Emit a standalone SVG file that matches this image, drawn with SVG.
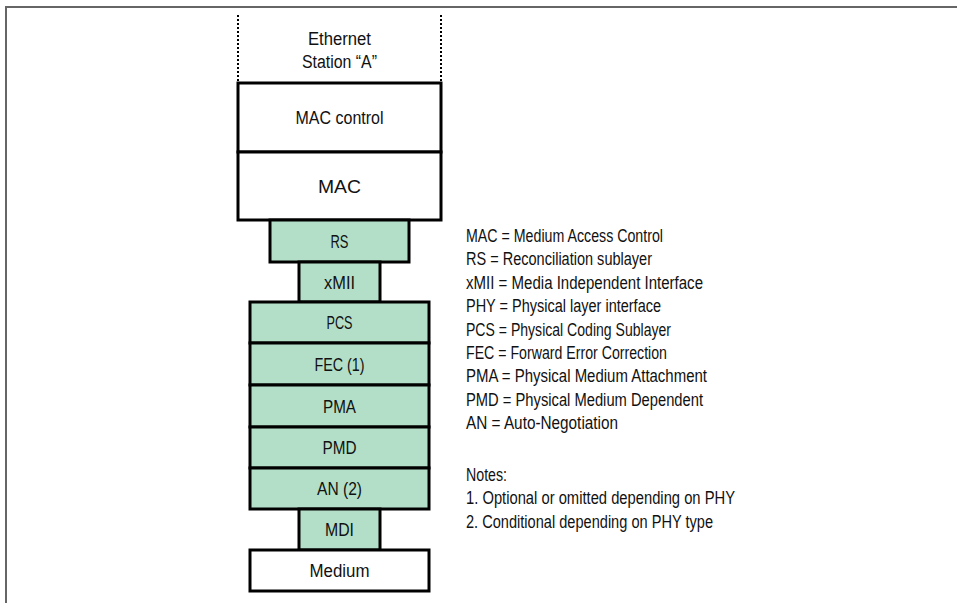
<svg xmlns="http://www.w3.org/2000/svg" width="957" height="603" viewBox="0 0 957 603">
<style>
.w{fill:#ffffff;stroke:#000;stroke-width:3}
.g{fill:#b3dfc8;stroke:#000;stroke-width:3}
.t{font-family:"Liberation Sans",Arial,sans-serif;font-size:18px;fill:#111;text-anchor:middle}
.l{font-family:"Liberation Sans",Arial,sans-serif;font-size:17.5px;fill:#111}
</style>
<rect x="0" y="0" width="957" height="603" fill="#ffffff"/>
<path d="M6 603 V7 H957" fill="none" stroke="#666" stroke-width="2"/>
<g id="station">
<line x1="238" y1="15" x2="238" y2="83" stroke="#000" stroke-width="2" stroke-dasharray="2,2"/>
<line x1="441" y1="15" x2="441" y2="83" stroke="#000" stroke-width="2" stroke-dasharray="2,2"/>
<text class="t" x="339.5" y="45" textLength="63" lengthAdjust="spacingAndGlyphs">Ethernet</text>
<text class="t" x="339.5" y="68" textLength="75" lengthAdjust="spacingAndGlyphs">Station “A”</text>
</g>
<g id="mac-control"><rect class="w" x="238" y="83" width="203" height="69"/><text class="t" x="339.5" y="124" textLength="88" lengthAdjust="spacingAndGlyphs">MAC control</text></g>
<g id="mac"><rect class="w" x="238" y="152" width="203" height="68"/><text class="t" x="339.5" y="192.5" textLength="43" lengthAdjust="spacingAndGlyphs">MAC</text></g>
<g id="rs"><rect class="g" x="270" y="220" width="139" height="42"/><text class="t" x="339.5" y="247.5" textLength="18" lengthAdjust="spacingAndGlyphs">RS</text></g>
<g id="xmii"><rect class="g" x="299" y="262" width="81" height="40"/><text class="t" x="339.5" y="288.5" textLength="31" lengthAdjust="spacingAndGlyphs">xMII</text></g>
<g id="pcs"><rect class="g" x="250" y="302" width="179" height="41"/><text class="t" x="339.5" y="329" textLength="26" lengthAdjust="spacingAndGlyphs">PCS</text></g>
<g id="fec"><rect class="g" x="250" y="343" width="179" height="42"/><text class="t" x="339.5" y="370.5" textLength="50" lengthAdjust="spacingAndGlyphs">FEC (1)</text></g>
<g id="pma"><rect class="g" x="250" y="385" width="179" height="42"/><text class="t" x="339.5" y="412.5" textLength="33" lengthAdjust="spacingAndGlyphs">PMA</text></g>
<g id="pmd"><rect class="g" x="250" y="427" width="179" height="41"/><text class="t" x="339.5" y="454" textLength="34" lengthAdjust="spacingAndGlyphs">PMD</text></g>
<g id="an"><rect class="g" x="250" y="468" width="179" height="41"/><text class="t" x="339.5" y="495" textLength="45" lengthAdjust="spacingAndGlyphs">AN (2)</text></g>
<g id="mdi"><rect class="g" x="299" y="509" width="81" height="41"/><text class="t" x="339.5" y="536" textLength="29" lengthAdjust="spacingAndGlyphs">MDI</text></g>
<g id="medium"><rect class="w" x="250" y="550" width="179" height="41"/><text class="t" x="339.5" y="577" textLength="60" lengthAdjust="spacingAndGlyphs">Medium</text></g>
<g id="connectors"></g>
<g id="legend">
<text class="l" x="466" y="242" textLength="197" lengthAdjust="spacingAndGlyphs">MAC = Medium Access Control</text>
<text class="l" x="466" y="265.4" textLength="186" lengthAdjust="spacingAndGlyphs">RS = Reconciliation sublayer</text>
<text class="l" x="466" y="288.8" textLength="237" lengthAdjust="spacingAndGlyphs">xMII = Media Independent Interface</text>
<text class="l" x="466" y="312.2" textLength="195" lengthAdjust="spacingAndGlyphs">PHY = Physical layer interface</text>
<text class="l" x="466" y="335.6" textLength="205" lengthAdjust="spacingAndGlyphs">PCS = Physical Coding Sublayer</text>
<text class="l" x="466" y="359" textLength="201" lengthAdjust="spacingAndGlyphs">FEC = Forward Error Correction</text>
<text class="l" x="466" y="382.4" textLength="241" lengthAdjust="spacingAndGlyphs">PMA = Physical Medium Attachment</text>
<text class="l" x="466" y="405.8" textLength="237" lengthAdjust="spacingAndGlyphs">PMD = Physical Medium Dependent</text>
<text class="l" x="466" y="429.2" textLength="152" lengthAdjust="spacingAndGlyphs">AN = Auto-Negotiation</text>
<text class="l" x="466" y="481" textLength="41" lengthAdjust="spacingAndGlyphs">Notes:</text>
<text class="l" x="466" y="504.4" textLength="269" lengthAdjust="spacingAndGlyphs">1. Optional or omitted depending on PHY</text>
<text class="l" x="466" y="527.8" textLength="247" lengthAdjust="spacingAndGlyphs">2. Conditional depending on PHY type</text>
</g>
</svg>
